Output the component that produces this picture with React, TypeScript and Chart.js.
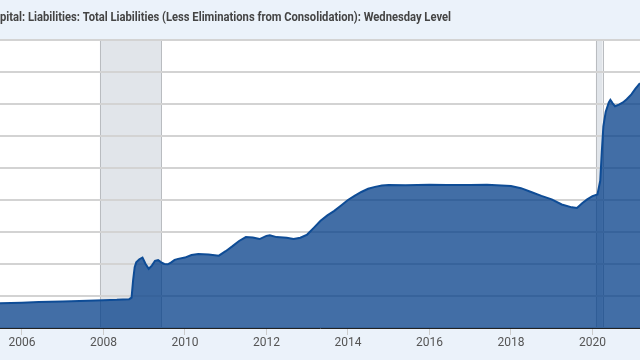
import React, { useEffect, useRef } from "react";
import { Chart, registerables } from "chart.js";

Chart.register(...registerables);

const TITLE = "pital: Liabilities: Total Liabilities (Less Eliminations from Consolidation): Wednesday Level";

const DATES = [
  "2005-06-15", "2006-01-01", "2006-06-01", "2007-01-01", "2007-06-01", "2008-01-01", "2008-05-01",
  "2008-08-20", "2008-09-10", "2008-09-24", "2008-10-08", "2008-10-22", "2008-11-19", "2008-12-17",
  "2009-01-14", "2009-02-11", "2009-03-11", "2009-04-08", "2009-05-06", "2009-06-03", "2009-07-01",
  "2009-08-01", "2009-09-01", "2009-10-01", "2009-11-01", "2010-01-01", "2010-03-01", "2010-05-01",
  "2010-08-01", "2010-11-01", "2011-01-01", "2011-03-01", "2011-05-01", "2011-07-01", "2011-09-01",
  "2011-11-01", "2012-01-01", "2012-02-01", "2012-04-01", "2012-07-01", "2012-09-01", "2012-11-01",
  "2013-01-01", "2013-03-01", "2013-05-01", "2013-07-01", "2013-09-01", "2013-11-01", "2014-01-01",
  "2014-03-01", "2014-05-01", "2014-07-01", "2014-09-01", "2014-11-01", "2015-01-01", "2015-06-01",
  "2016-01-01", "2016-06-01", "2017-01-01", "2017-06-01", "2018-01-01", "2018-04-01", "2018-07-01",
  "2018-10-01", "2019-01-01", "2019-04-01", "2019-07-01", "2019-08-15", "2019-10-01", "2019-11-15",
  "2020-01-01", "2020-02-15", "2020-03-11", "2020-03-25", "2020-04-08", "2020-04-29", "2020-05-27",
  "2020-06-10", "2020-07-01", "2020-07-22", "2020-08-26", "2020-10-01", "2020-11-04", "2020-12-16",
  "2021-01-20", "2021-03-03",
];

// Trillions of U.S. dollars
const LIABILITIES = [
  0.77, 0.79, 0.81, 0.83, 0.84, 0.87, 0.88,
  0.9, 0.95, 1.5, 1.9, 2.05, 2.15, 2.2,
  2.0, 1.85, 1.95, 2.1, 2.12, 2.05, 2.0,
  1.99, 2.05, 2.13, 2.16, 2.2, 2.28, 2.31,
  2.3, 2.26, 2.4, 2.55, 2.72, 2.84, 2.83,
  2.78, 2.88, 2.9, 2.84, 2.82, 2.78, 2.82,
  2.92, 3.13, 3.35, 3.52, 3.66, 3.83, 4.0,
  4.13, 4.25, 4.35, 4.41, 4.45, 4.47, 4.46,
  4.48, 4.47, 4.47, 4.48, 4.44, 4.37, 4.25,
  4.13, 4.02, 3.86, 3.77, 3.75, 3.9, 4.02,
  4.12, 4.17, 4.6, 5.5, 6.3, 6.75, 7.05,
  7.13, 7.02, 6.93, 6.98, 7.05, 7.15, 7.3,
  7.47, 7.65,
];

const TICK_YEARS = [2006, 2008, 2010, 2012, 2014, 2016, 2018, 2020];

const RECESSIONS = [
  ["2007-12-01", "2009-06-01"],
  ["2020-02-01", "2020-04-01"],
];

const X_MIN = "2005-06-19";
const X_MAX = "2021-03-03";
const Y_MAX = 9;

function toYear(d: string): number {
  const [y, m, day] = d.split("-").map(Number);
  const start = Date.UTC(y, 0, 1);
  const end = Date.UTC(y + 1, 0, 1);
  const t = Date.UTC(y, m - 1, day || 1);
  return y + (t - start) / (end - start);
}

export default function App() {
  const ref = useRef<HTMLCanvasElement | null>(null);

  useEffect(() => {
    document.body.style.margin = "0";
    const canvas = ref.current!;
    const bgPlugin = {
      id: "bg",
      beforeDraw(chart: any) {
        const { ctx, chartArea, scales } = chart;
        ctx.save();
        ctx.fillStyle = "#EBF2FA";
        ctx.fillRect(0, 0, chart.width, chart.height);
        ctx.fillStyle = "#FFFFFF";
        ctx.fillRect(chartArea.left, chartArea.top, chartArea.right - chartArea.left, chartArea.bottom - chartArea.top);
        for (const [a, b] of RECESSIONS) {
          const x1 = scales.x.getPixelForValue(toYear(a));
          const x2 = scales.x.getPixelForValue(toYear(b));
          ctx.fillStyle = "#E1E5EA";
          ctx.fillRect(x1, chartArea.top, x2 - x1, chartArea.bottom - chartArea.top);
          ctx.strokeStyle = "#B9BCC0";
          ctx.lineWidth = 1;
          ctx.beginPath();
          ctx.moveTo(Math.round(x1) + 0.5, chartArea.top);
          ctx.lineTo(Math.round(x1) + 0.5, chartArea.bottom);
          ctx.moveTo(Math.round(x2) + 0.5, chartArea.top);
          ctx.lineTo(Math.round(x2) + 0.5, chartArea.bottom);
          ctx.stroke();
        }
        ctx.restore();
      },
      afterDraw(chart: any) {
        const { ctx } = chart;
        ctx.save();
        ctx.font = "bold 12px Roboto";
        ctx.fillStyle = "#444444";
        ctx.textBaseline = "alphabetic";
        const w = ctx.measureText(TITLE).width;
        const target = 451;
        ctx.translate(0, 21);
        if (w > target) ctx.scale(target / w, 1);
        ctx.fillText(TITLE, 0, 0);
        ctx.restore();
      },
    };

    const chart = new Chart(canvas, {
      type: "line",
      data: {
        datasets: [
          {
            data: DATES.map((d, i) => ({ x: toYear(d), y: LIABILITIES[i] })),
            borderColor: "#0E4C96",
            borderWidth: 2,
            backgroundColor: "rgba(1,60,136,0.745)",
            fill: "origin",
            pointRadius: 0,
            tension: 0,
          },
        ],
      },
      options: {
        animation: false,
        responsive: false,
        layout: { padding: { top: 40, left: 0, right: 0, bottom: 0 } },
        plugins: { legend: { display: false }, tooltip: { enabled: false }, title: { display: false } },
        scales: {
          x: {
            type: "linear",
            min: toYear(X_MIN),
            max: toYear(X_MAX),
            afterBuildTicks: (s: any) => {
              s.ticks = TICK_YEARS.map((v) => ({ value: v }));
            },
            afterFit: (s: any) => {
              s.height = 32;
            },
            ticks: {
              autoSkip: false,
              maxRotation: 0,
              padding: 1,
              color: "#555555",
              font: { family: "Roboto", size: 12 },
              callback: (v: any) => String(v),
            },
            grid: { drawOnChartArea: false, drawTicks: true, tickLength: 7, color: "#CCCCCC" },
            border: { display: true, color: "#222222", width: 1 },
            z: 1,
          },
          y: {
            min: 0,
            max: Y_MAX,
            ticks: { display: false, stepSize: 1 },
            grid: { drawTicks: false, color: "#D3D3D3", lineWidth: 2 },
            border: { display: false },
            afterFit: (s: any) => {
              s.width = 0;
            },
          },
        },
      },
      plugins: [bgPlugin],
    });
    return () => chart.destroy();
  }, []);

  return (
    <div style={{ width: 640, height: 360 }}>
      <canvas ref={ref} width={640} height={360} style={{ display: "block", width: 640, height: 360 }} />
    </div>
  );
}
